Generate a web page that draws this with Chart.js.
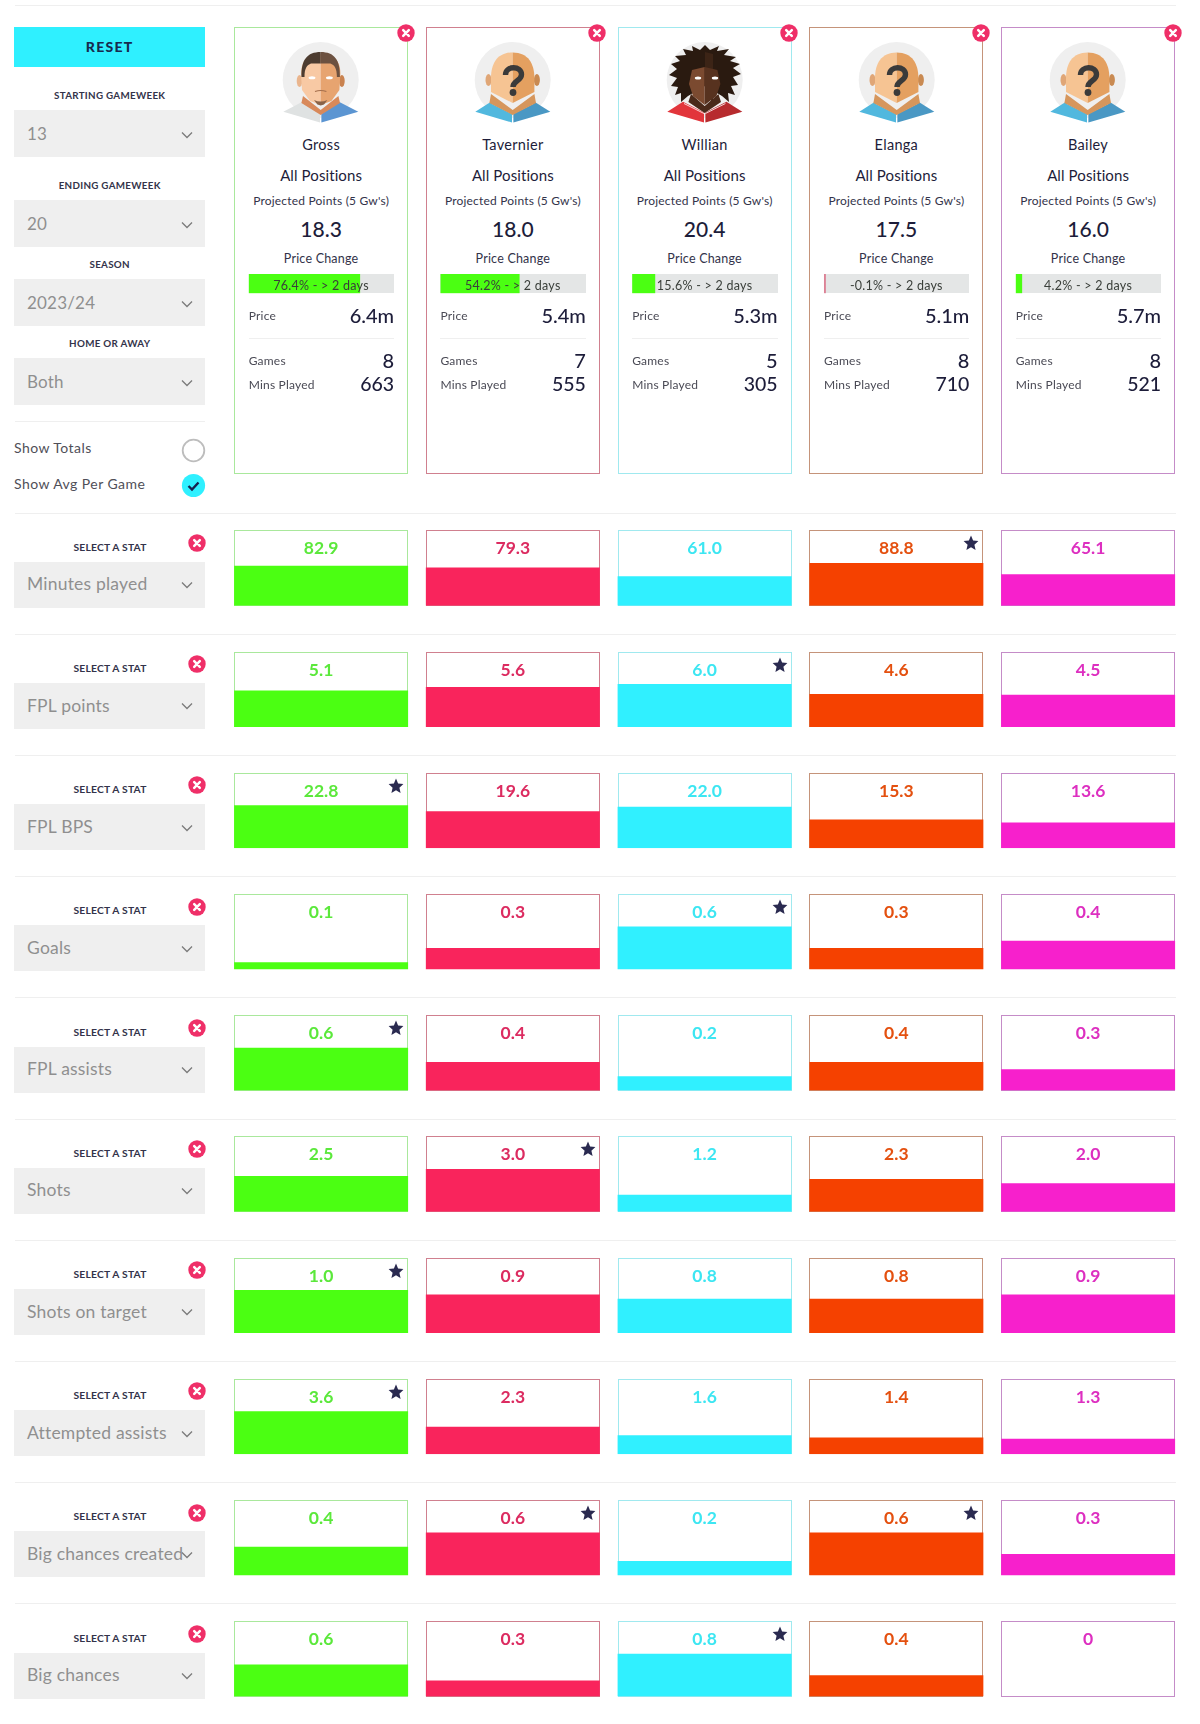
<!DOCTYPE html>
<html><head><meta charset="utf-8">
<style>
html,body{margin:0;padding:0;background:#fff}
#page{position:relative;width:1200px;height:1724px;overflow:hidden;background:#fff;font-family:Lato,"Noto Sans",sans-serif;color:#1d1d3a;filter:blur(.35px)}
#page>*{position:absolute}
#page svg{display:block}
.t{white-space:nowrap;line-height:1}
</style>
<script src="https://cdn.jsdelivr.net/npm/chart.js@4"></script>
</head><body><div id="page"></div>
<script>
// ---------- data ----------
const players = ["Gross","Tavernier","Willian","Elanga","Bailey"];
const avatars = ["gross","unknown","willian","unknown","unknown"];
const projectedPoints = [18.3,18.0,20.4,17.5,16.0];
const priceChange = [76.4,54.2,15.6,-0.1,4.2];
const prices = ["6.4m","5.4m","5.3m","5.1m","5.7m"];
const games = [8,7,5,8,8];
const minsPlayed = [663,555,305,710,521];
const filters = [["STARTING GAMEWEEK","13"],["ENDING GAMEWEEK","20"],["SEASON","2023/24"],["HOME OR AWAY","Both"]];
const statNames = ["Minutes played","FPL points","FPL BPS","Goals","FPL assists","Shots","Shots on target","Attempted assists","Big chances created","Big chances"];
const minutesPlayed = [82.9,79.3,61.0,88.8,65.1];
const fplPoints = [5.1,5.6,6.0,4.6,4.5];
const fplBps = [22.8,19.6,22.0,15.3,13.6];
const goals = [0.1,0.3,0.6,0.3,0.4];
const fplAssists = [0.6,0.4,0.2,0.4,0.3];
const shots = [2.5,3.0,1.2,2.3,2.0];
const shotsOnTarget = [1.0,0.9,0.8,0.8,0.9];
const attemptedAssists = [3.6,2.3,1.6,1.4,1.3];
const bigChancesCreated = [0.4,0.6,0.2,0.6,0.3];
const bigChances = [0.6,0.3,0.8,0.4,0];
const statValues = [minutesPlayed,fplPoints,fplBps,goals,fplAssists,shots,shotsOnTarget,attemptedAssists,bigChancesCreated,bigChances];

// ---------- styles / layout ----------
const fills = ["#4bff12","#f9245c","#30f0ff","#f54100","#f720cc"];
const frames = ["#a9e89c","#d0808f","#a0e9ef","#c5947a","#c58cc8"];
const valueColors = ["#5be83b","#dc2b60","#3ce6f2","#e4500f","#dd2fc0"];
const NAVY = "#1d1d3a", GREY = "#4a4a55", RED = "#ef2f68";
const CARD_X = 234.1, CARD_W = 174, PITCH = 191.75, ROW_Y = 530.3, ROW_H = 75.5, ROW_PITCH = 121.2, AXIS_HEADROOM = 1.76;
const page = document.getElementById("page");

function box(x,y,w,h,css){const d=document.createElement("div");d.style.cssText=`left:${x}px;top:${y}px;width:${w}px;height:${h}px;box-sizing:border-box;${css||""}`;page.appendChild(d);return d;}
function text(s,x,cy,size,color,o){o=o||{};const d=document.createElement("div");d.className="t";d.textContent=s;
  const tx=o.align==="center"?"-50%":o.align==="right"?"-100%":"0";
  d.style.cssText=`left:${x}px;top:${cy}px;transform:translate(${tx},-50%);font-size:${size}px;color:${color};font-weight:${o.weight||400};letter-spacing:${o.ls||0}px;z-index:${o.z||3}`;
  page.appendChild(d);return d;}
function svg(x,y,w,h,inner,z){const d=document.createElement("div");d.style.cssText=`left:${x}px;top:${y}px;width:${w}px;height:${h}px;z-index:${z||3}`;
  d.innerHTML=`<svg xmlns="http://www.w3.org/2000/svg" width="${w}" height="${h}" viewBox="0 0 ${w} ${h}">${inner}</svg>`;page.appendChild(d);}
function chevron(cx,cy){svg(cx-7,cy-5,14,10,'<polyline points="2,2.5 7,7.5 12,2.5" fill="none" stroke="#7b7b7b" stroke-width="1.3"/>');}
function closeIcon(cx,cy){svg(cx-9,cy-9,18,18,`<circle cx="9" cy="9" r="8.7" fill="${RED}"/><path d="M6.2 6.2L11.8 11.8M11.8 6.2L6.2 11.8" stroke="#fff" stroke-width="2.5" stroke-linecap="round"/>`,5);}
function star(cx,cy){svg(cx-8,cy-8,16,16,`<polygon points="8,0.6 10.1,5.6 15.4,6.1 11.4,9.7 12.6,15 8,12.2 3.4,15 4.6,9.7 0.6,6.1 5.9,5.6" fill="#2a2a50"/>`,4);}
function rule(y,x0,x1){box(x0,y-.5,x1-x0,1,"background:#efefef");}

const shirt=(l,r)=>`<polygon points="14.3,81.7 30,71.7 51,82.6 51,92.5" fill="${l}"/><polygon points="89.3,81.7 73.4,71.7 52.4,82.6 52.4,92.5" fill="${r}"/><path d="M31 73.5L51 83.5M72.4 73.5L52.4 83.5" stroke="#fff" stroke-opacity=".8" stroke-width="1"/>`;
const AVATAR = {
 unknown:`<circle cx="51.7" cy="50" r="38" fill="#efefef"/>${shirt("#51b8de","#4a98c4")}
  <polygon points="30,64 51.7,80 73.4,64 75,73 51.7,85 28.4,73" fill="#d6965c"/>
  <ellipse cx="27.5" cy="50" rx="3" ry="6" fill="#e0a676"/><ellipse cx="75.9" cy="50" rx="3" ry="6" fill="#c98a52"/>
  <path d="M51.7,22.5C36,22.5 30,34 30,48L30,62L51.7,73Z" fill="#f6c493"/><path d="M51.7,22.5C67.4,22.5 73.4,34 73.4,48L73.4,62L51.7,73Z" fill="#e4a060"/>
  <path d="M44.5,45C44.5,35.5 60.5,35.5 60.5,44.5C60.5,51 52,50.5 52,57" fill="none" stroke="#3a3a3a" stroke-width="5.4"/><circle cx="52" cy="62.5" r="3.4" fill="#3a3a3a"/>`,
 gross:`<circle cx="51.7" cy="50" r="38" fill="#efefef"/><polygon points="14.3,81.7 33,72 51,84 51,92.5" fill="#dfe2e2"/><polygon points="89.3,81.7 70.4,72 52.4,84 52.4,92.5" fill="#5b95d2"/>
  <polygon points="34,66 51.7,80 69.4,66 71,73 51.7,85 32.4,73" fill="#d8895a"/>
  <ellipse cx="30.5" cy="51" rx="2.8" ry="6" fill="#eab58d"/><ellipse cx="72.9" cy="51" rx="2.8" ry="6" fill="#c9824f"/>
  <path d="M51.7,24C37,24 32,32 32,44L33,60L41,71L51.7,75Z" fill="#f8c9a4"/><path d="M51.7,24C66.4,24 71.4,32 71.4,44L70.4,60L62.4,71L51.7,75Z" fill="#e7a470"/>
  <path d="M51.7,22C38,22 32,30 32.5,47L35.5,47C35.5,38 38,35 42,33.5L51.7,33.5Z" fill="#4d3c30"/><path d="M51.7,22C65.4,22 71.4,30 70.9,47L67.9,47C67.9,38 65.4,35 61.4,33.5L51.7,33.5Z" fill="#6c5140"/>
  <ellipse cx="43" cy="47.8" rx="3.4" ry="1.5" fill="#fff"/><ellipse cx="60.4" cy="47.8" rx="3.4" ry="1.5" fill="#fff"/>
  <path d="M46,61.5Q51.7,59.5 57.4,61.5" stroke="#a56f4c" stroke-width="1.2" fill="none"/>
  <path d="M45,70Q51.7,73 58.4,70L55,74.5L51.7,75.5L48.4,74.5Z" fill="#8a6348"/>`,
 willian:`<circle cx="51.7" cy="50" r="38" fill="#efefef"/>${shirt("#e2353b","#b72b2e")}
  <polygon points="52,15 57,20 66,16 64,21 76,19 71,25 83,27 77,31 87,34 80,38 88,44 80,47 85,55 78,56 82,65 75,63 76,72 69,66 52,56 35,66 28,72 28,63 22,65 25,57 18,56 24,48 16,45 24,39 18,34 27,31 22,26 33,25 30,19 40,21 39,16 47,20" fill="#2a1a10"/>
  <polygon points="52,22 60,24 60,74 52,60" fill="#3c2416"/>
  <polygon points="38,64 51.7,76 65.4,64 68,72 51.7,83 35.4,72" fill="#4a2a1a"/>
  <path d="M51.7,37L39,40L36,54L40,66L51.7,75Z" fill="#7b4a30"/><path d="M51.7,37L64.4,40L67.4,54L63.4,66L51.7,75Z" fill="#57321f"/>
  <ellipse cx="45" cy="48" rx="3.2" ry="1.5" fill="#fff"/><ellipse cx="62" cy="48" rx="3.2" ry="1.5" fill="#fff"/>`
};

// ---------- left panel ----------
rule(5,15,1176);
box(14,27,191.3,40.3,"background:#2ff0ff");
text("RESET",109.7,47,14,"#172a4f",{align:"center",weight:900,ls:1.3});
const filterY=[110,200,279,358];
filters.forEach((f,i)=>{const y=filterY[i];
  text(f[0],109.7,y-14.5,9.8,"#33334a",{align:"center",weight:700,ls:.3});
  box(14,y,191.3,46.5,"background:#efefef");
  text(f[1],27,y+22.5,17,"#8f8f8f",{ls:.2});
  chevron(187,y+24.5);
});
rule(421,15,205);
text("Show Totals",14,448,14,"#4f4f58",{ls:.45});
svg(181,438,25,25,'<circle cx="12.5" cy="12.5" r="10.8" fill="#fff" stroke="#bdbdbd" stroke-width="1.8"/>');
text("Show Avg Per Game",14,484,14,"#4f4f58",{ls:.45});
svg(181,473,25,25,'<circle cx="12.5" cy="12.5" r="11.6" fill="#2ff0ff"/><polyline points="7.5,13 11,16.5 17.5,9.5" fill="none" stroke="#14224f" stroke-width="2.4"/>');

// ---------- player cards ----------
players.forEach((p,i)=>{
  const x=CARD_X+i*PITCH, cx=x+CARD_W/2, L=x+14.6, R=x+160;
  box(x,27.3,CARD_W,446.5,`border:1.3px solid ${frames[i]}`);
  closeIcon(x+171.5,33);
  svg(cx-51.7,30,104,100,AVATAR[avatars[i]]);
  text(p,cx,144.5,14.5,NAVY,{align:"center",ls:.3});
  text("All Positions",cx,175,15,NAVY,{align:"center",ls:.1});
  text("Projected Points (5 Gw's)",cx,200.5,12,"#33334a",{align:"center",ls:.2});
  text(projectedPoints[i].toFixed(1),cx,227.5,21,NAVY,{align:"center",weight:500});
  text("Price Change",cx,258.5,12.5,"#33334a",{align:"center",ls:.2});
  // price-change bar
  const barL=Math.floor(L), barW=146, padL=L-barL;
  box(L,274,145.4,19.3,"background:#e4e6e6");
  const cv=document.createElement("canvas");cv.width=barW+2;cv.height=22;cv.style.cssText=`left:${barL}px;top:273px;z-index:2`;page.appendChild(cv);
  new Chart(cv,{type:"bar",data:{labels:[p],datasets:[{data:[Math.abs(priceChange[i])],backgroundColor:priceChange[i]<0?"#dc8296":"#4bff12",barPercentage:1,categoryPercentage:1,borderWidth:0,minBarLength:1.6}]},
    options:{indexAxis:"y",responsive:false,animation:false,layout:{padding:{left:padL,right:barW+2-padL-145.4,top:1,bottom:1.7}},plugins:{legend:{display:false},tooltip:{enabled:false}},scales:{x:{display:false,min:0,max:100},y:{display:false}}}});
  text(`${priceChange[i]}% - > 2 days`,cx,286,12.5,"#3a3f3a",{align:"center",ls:.25});
  text("Price",L,316,12,GREY,{ls:.2});
  text(prices[i],R,314.5,20,NAVY,{align:"right",weight:500});
  rule(338.5,L,x+160);
  text("Games",L,361,12,GREY,{ls:.2});
  text(String(games[i]),R,360,20,NAVY,{align:"right",weight:500});
  text("Mins Played",L,384.5,12,GREY,{ls:.2});
  text(String(minsPlayed[i]),R,384,19.5,NAVY,{align:"right",weight:500});
});

// ---------- stat rows ----------
statNames.forEach((name,r)=>{
  const top=ROW_Y+r*ROW_PITCH, vals=statValues[r], maxV=Math.max(...vals);
  rule(top-17.3,15,1176);
  text("SELECT A STAT",110,top+16.5,10.3,"#33334a",{align:"center",weight:700,ls:.2});
  closeIcon(197,top+12.7);
  box(14,top+31.4,191.3,46,"background:#efefef");
  text(name,27,top+54,17.5,"#8f8f8f",{ls:.2});
  chevron(187,top+54.8);
  players.forEach((p,i)=>{
    const x=CARD_X+i*PITCH;
    box(x,top,CARD_W,ROW_H,`border:1.3px solid ${frames[i]}`);
    text(vals[i]===0?"0":vals[i].toFixed(1),x+CARD_W/2,top+18,17.5,valueColors[i],{align:"center",weight:700});
    if(vals[i]===maxV) star(x+CARD_W-12,top+13);
  });
  const cvL=224, cvW=976, cvT=Math.floor(top), cvH=80, padTop=top-cvT, areaL=CARD_X-(PITCH-CARD_W)/2, areaW=PITCH*players.length;
  const cv=document.createElement("canvas");cv.width=cvW;cv.height=cvH;cv.style.cssText=`left:${cvL}px;top:${cvT}px;z-index:2`;page.appendChild(cv);
  new Chart(cv,{type:"bar",data:{labels:players,datasets:[{label:name,data:vals,backgroundColor:fills,barPercentage:CARD_W/PITCH,categoryPercentage:1,borderWidth:0}]},
    options:{responsive:false,animation:false,layout:{padding:{left:areaL-cvL,right:cvL+cvW-areaL-areaW,top:padTop,bottom:cvH-padTop-ROW_H}},plugins:{legend:{display:false},tooltip:{enabled:false}},
      scales:{x:{display:false},y:{display:false,min:0,max:maxV*AXIS_HEADROOM}}}});
});
</script></body></html>
